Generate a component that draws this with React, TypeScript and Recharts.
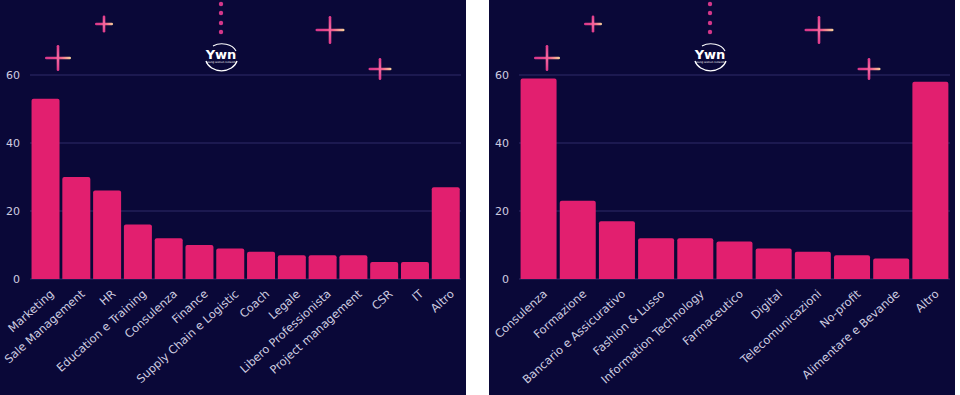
import React from "react"
import { BarChart, Bar, XAxis, YAxis, CartesianGrid } from "recharts"

const funzioni = [
  "Marketing", "Sale Management", "HR", "Education e Training", "Consulenza",
  "Finance", "Supply Chain e Logistic", "Coach", "Legale", "Libero Professionista",
  "Project management", "CSR", "IT", "Altro",
]
const funzioniCount = [53, 30, 26, 16, 12, 10, 9, 8, 7, 7, 7, 5, 5, 27]

const settori = [
  "Consulenza", "Formazione", "Bancario e Assicurativo", "Fashion & Lusso",
  "Information Technology", "Farmaceutico", "Digital", "Telecomunicazioni",
  "No-profit", "Alimentare e Bevande", "Altro",
]
const settoriCount = [59, 23, 17, 12, 12, 11, 9, 8, 7, 6, 58]

const yTicks = [0, 20, 40, 60]

const BG = "#0a0838"
const PINK = "#e21f6f"
const GRID = "#2f2b68"
const TEXT = "#cfcde0"
const FONT = "'DejaVu Sans', sans-serif"

function RotatedTick(props: any) {
  const { x, y, payload } = props
  return (
    <g transform={`translate(${x + 4},${y + 2})`}>
      <text
        x={0}
        y={0}
        dy="0.7em"
        textAnchor="end"
        transform="rotate(-42)"
        fill={TEXT}
        fontSize={11.4}
        fontFamily={FONT}
      >
        {payload.value}
      </text>
    </g>
  )
}

function Cross({ cx, cy, w, h, id }: { cx: number; cy: number; w: number; h: number; id: string }) {
  return (
    <g>
      <rect x={cx - w / 2} y={cy - 1.3} width={w} height={2.6} rx={1.3} fill={`url(#${id}-h)`} />
      <rect x={cx - 1.3} y={cy - h / 2} width={2.6} height={h} rx={1.3} fill={`url(#${id}-v)`} />
    </g>
  )
}

function Decorations({ id }: { id: string }) {
  return (
    <svg width={466} height={395} style={{ position: "absolute", left: 0, top: 0, pointerEvents: "none" }}>
      <defs>
        <linearGradient id={`${id}-h`} x1="0" x2="1" y1="0" y2="0">
          <stop offset="0%" stopColor="#d8368c" />
          <stop offset="55%" stopColor="#f0508a" />
          <stop offset="100%" stopColor="#f7d49a" />
        </linearGradient>
        <linearGradient id={`${id}-v`} x1="0" x2="0" y1="0" y2="1">
          <stop offset="0%" stopColor="#e0388a" />
          <stop offset="50%" stopColor="#f26aa0" />
          <stop offset="100%" stopColor="#e0388a" />
        </linearGradient>
      </defs>
      <Cross id={id} cx={58} cy={58} w={26} h={26} />
      <Cross id={id} cx={104} cy={24} w={18} h={17} />
      <Cross id={id} cx={330} cy={30} w={29} h={28} />
      <Cross id={id} cx={380} cy={69} w={23} h={22} />
      {[4, 13, 23, 32].map((cy) => (
        <circle key={cy} cx={221} cy={cy} r={2.2} fill="#d4378a" />
      ))}
      <text x={221} y={59} textAnchor="middle" fill="#ffffff" fontSize={13} fontWeight="bold" fontFamily={FONT}>
        Ywn
      </text>
      <text x={221} y={63} textAnchor="middle" fill="#ffffff" fontSize={2.6} fontFamily={FONT}>
        young women network
      </text>
      <path d="M 206 61 A 16 13 0 0 0 237 61" fill="none" stroke="#ffffff" strokeWidth={1.3} />
      <path d="M 213 46 A 15 11 0 0 1 236 51" fill="none" stroke="#ffffff" strokeWidth={1.1} />
    </svg>
  )
}

function Panel({ labels, values, gap, id, left }: { labels: string[]; values: number[]; gap: string; id: string; left: number }) {
  const data = labels.map((name, i) => ({ name, value: values[i] }))
  return (
    <div style={{ position: "absolute", left, top: 0, width: 466, height: 395, background: BG }}>
      <BarChart
        width={466}
        height={395}
        data={data}
        margin={{ top: 7, right: 5, left: 0, bottom: 0 }}
        barCategoryGap={gap}
      >
        <CartesianGrid vertical={false} stroke={GRID} horizontalValues={yTicks} />
        <XAxis
          dataKey="name"
          interval={0}
          height={116}
          axisLine={false}
          tickLine={false}
          tick={<RotatedTick />}
        />
        <YAxis
          width={30}
          domain={[0, 80]}
          ticks={yTicks}
          axisLine={false}
          tickLine={false}
          tickMargin={4}
          tick={{ fill: TEXT, fontSize: 11, fontFamily: FONT }}
        />
        <Bar dataKey="value" fill={PINK} radius={[2, 2, 0, 0]} isAnimationActive={false} />
      </BarChart>
      <Decorations id={id} />
    </div>
  )
}

export default function App() {
  return (
    <div style={{ position: "relative", width: 960, height: 395, background: "#ffffff", overflow: "hidden" }}>
      <style>{"body{margin:0}"}</style>
      <Panel labels={funzioni} values={funzioniCount} gap="5%" id="a" left={0} />
      <Panel labels={settori} values={settoriCount} gap="4%" id="b" left={489} />
    </div>
  )
}
